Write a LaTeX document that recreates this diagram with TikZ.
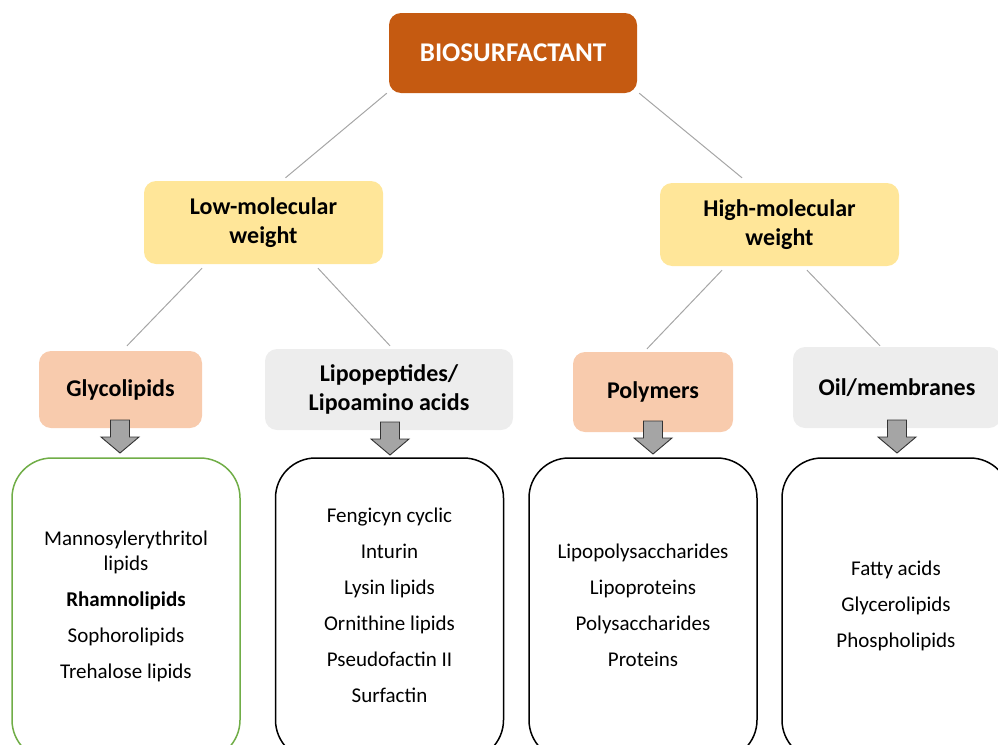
\documentclass[tikz,border=0pt]{standalone}
\usepackage{fontspec}
\setmainfont{Carlito}
\usetikzlibrary{calc}
\definecolor{biocol}{HTML}{C55A11}
\definecolor{lowcol}{HTML}{FFE699}
\definecolor{peach}{HTML}{F8CBAD}
\definecolor{lgray}{HTML}{EDEDED}
\definecolor{conncol}{HTML}{A6A6A6}
\definecolor{arrcol}{HTML}{A5A5A5}
\definecolor{grn}{HTML}{70AD47}
\tikzset{
  hdr/.style={rounded corners=12pt, inner sep=0pt, align=center, font=\fontsize{24}{29}\selectfont\bfseries},
  title/.style={hdr, fill=biocol, text=white, minimum width=248pt, minimum height=80pt, font=\fontsize{27}{30}\selectfont\bfseries},
  conn/.style={draw=conncol, line width=1pt},
  listbox/.style={draw=black, line width=1.5pt, rounded corners=40pt, minimum width=228pt, minimum height=302pt, inner sep=0pt},
  listtxt/.style={align=center, inner sep=0pt, font=\fontsize{21}{36}\selectfont},
  blkarrow/.style={fill=arrcol, draw=black!80, line width=0.9pt, line join=miter}
}
\newcommand\myblockarrow[2]{%
  \draw[blkarrow] (#1-9.5,#2) -- (#1+9.5,#2) -- (#1+9.5,#2+17) -- (#1+19,#2+17) -- (#1,#2+33) -- (#1-19,#2+17) -- (#1-9.5,#2+17) -- cycle;}
\begin{document}
\begin{tikzpicture}[x=1pt,y=-1pt]
\useasboundingbox (0,0) rectangle (998,744);
\clip (0,0) rectangle (998,744);

\node[title] (bio) at (513,53) {BIOSURFACTANT};
\node[hdr, fill=lowcol, minimum width=239pt, minimum height=83pt] (low) at (263.5,222.5) {Low-molecular\\weight};
\node[hdr, fill=lowcol, minimum width=239pt, minimum height=83pt] (high) at (779.5,224.5) {High-molecular\\weight};
\node[hdr, fill=peach, minimum width=163pt, minimum height=77pt] (gly) at (120.5,389.5) {Glycolipids};
\node[hdr, fill=lgray, minimum width=248pt, minimum height=81pt] (lip) at (389,389.5) {Lipopeptides/\\Lipoamino acids};
\node[hdr, fill=peach, minimum width=160pt, minimum height=80pt] (pol) at (653,392) {Polymers};
\node[hdr, fill=lgray, minimum width=208pt, minimum height=81pt] (oil) at (897,387.5) {Oil/membranes};

\draw[conn] ($(bio.south west)+(-2,0)$) -- ($(low.north)+(22,-3)$);
\draw[conn] ($(bio.south east)+(2,0)$) -- ($(high.north)+(-37.5,-5)$);
\draw[conn] ($(low.south)+(-61.5,4)$) -- ($(gly.north)+(6.5,-5)$);
\draw[conn] ($(low.south)+(54.5,4)$) -- ($(lip.north)+(1,-3)$);
\draw[conn] ($(high.south)+(-57.5,4)$) -- ($(pol.north)+(-6,-3)$);
\draw[conn] ($(high.south)+(27.5,4)$) -- ($(oil.north)+(-17,-1)$);

\node[listbox, draw=grn] (b1) at (126,609) {};
\node[listbox] (b2) at (389.5,609) {};
\node[listbox] (b3) at (643,609) {};
\node[listbox] (b4) at (896,609) {};

\myblockarrow{120}{420}
\myblockarrow{390}{422}
\myblockarrow{653}{421}
\myblockarrow{897}{420}

\node[listtxt, font=\fontsize{21}{25}\selectfont] (t1) at (126,606) {Mannosylerythritol\\lipids\\[11pt]\textbf{Rhamnolipids}\\[11pt]Sophorolipids\\[11pt]Trehalose lipids};
\node[listtxt] (t2) at (389.5,605) {Fengicyn cyclic\\Inturin\\Lysin lipids\\Ornithine lipids\\Pseudofactin II\\Surfactin};
\node[listtxt] (t3) at (643,605) {Lipopolysaccharides\\Lipoproteins\\Polysaccharides\\Proteins};
\node[listtxt] (t4) at (896,606) {Fatty acids\\Glycerolipids\\Phospholipids};
\end{tikzpicture}
\end{document}
